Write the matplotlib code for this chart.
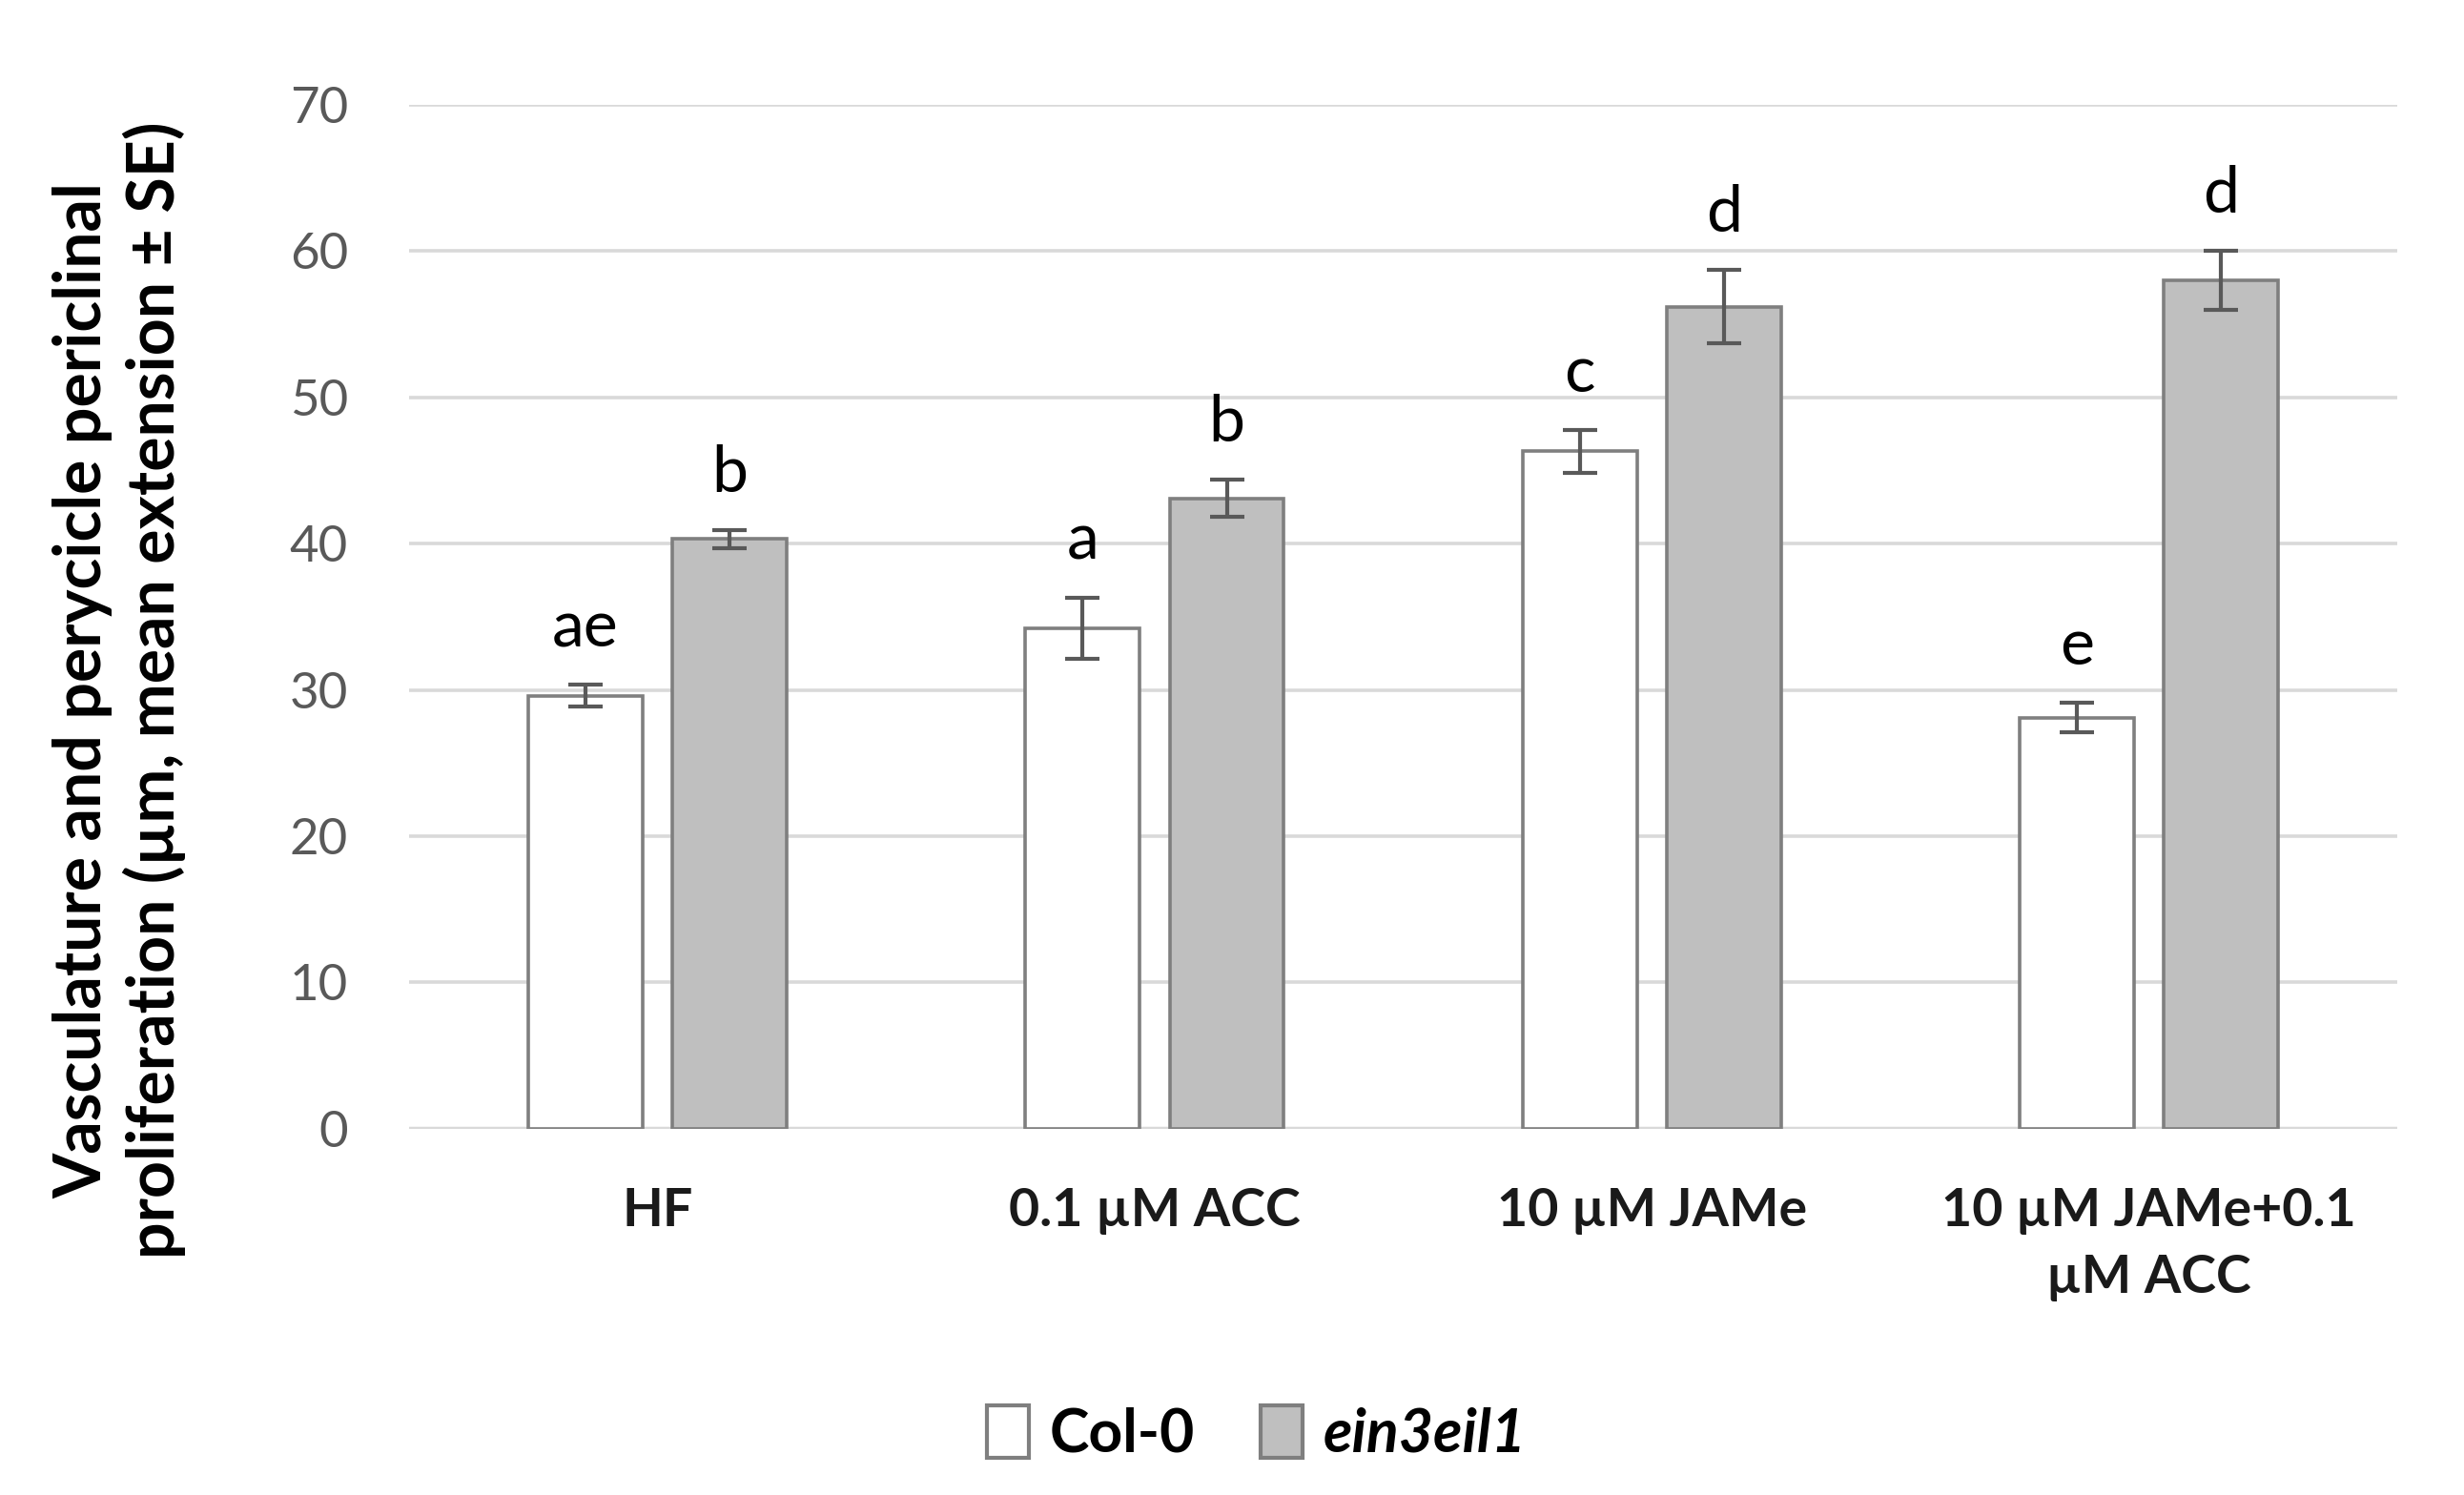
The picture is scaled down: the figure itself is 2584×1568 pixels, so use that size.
import numpy as np
import matplotlib
matplotlib.use("Agg")
import matplotlib.pyplot as plt
from matplotlib.patches import Patch

plt.rcParams["font.family"] = ["Lato", "DejaVu Sans"]

# data
treatments = ["HF", "0.1 µM ACC", "10 µM JAMe", "10 µM JAMe+0.1\nµM ACC"]
col0_mean = [29.6, 34.2, 46.3, 28.1]
col0_se = [0.75, 2.1, 1.45, 1.0]
ein_mean = [40.3, 43.1, 56.2, 58.0]
ein_se = [0.63, 1.3, 2.5, 2.0]
col0_letters = ["ae", "a", "c", "e"]
ein_letters = ["b", "b", "d", "d"]
yticks = [0, 10, 20, 30, 40, 50, 60, 70]

EDGE = "#7f7f7f"
GREY = "#bfbfbf"
ERR = "#595959"
GRID = "#d9d9d9"

fig = plt.figure(figsize=(12.92, 7.84), dpi=200)
ax = fig.add_axes([0.166, 0.245, 0.807, 0.685])

x = np.arange(len(treatments))
w = 0.23
off = 0.145

ax.bar(x - off, col0_mean, w, color="white", edgecolor=EDGE, linewidth=1.3, zorder=3)
ax.bar(x + off, ein_mean, w, color=GREY, edgecolor=EDGE, linewidth=1.3, zorder=3)
ax.errorbar(x - off, col0_mean, yerr=col0_se, fmt="none", ecolor=ERR,
            elinewidth=1.5, capsize=6.5, capthick=1.5, zorder=4)
ax.errorbar(x + off, ein_mean, yerr=ein_se, fmt="none", ecolor=ERR,
            elinewidth=1.5, capsize=6.5, capthick=1.5, zorder=4)

for xi, m, s, lab in zip(x - off, col0_mean, col0_se, col0_letters):
    ax.text(xi, m + s + 2.6, lab, ha="center", va="baseline", fontsize=24.5, color="black")
for xi, m, s, lab in zip(x + off, ein_mean, ein_se, ein_letters):
    ax.text(xi, m + s + 2.6, lab, ha="center", va="baseline", fontsize=24.5, color="black")

ax.set_xlim(-0.5, len(treatments) - 0.5)
ax.set_ylim(0, 70)
ax.set_yticks(yticks)
ax.yaxis.grid(True, color=GRID, linewidth=1.3, zorder=0)
ax.set_axisbelow(True)
for sp in ax.spines.values():
    sp.set_visible(False)
ax.axhline(0, color=GRID, linewidth=1.6, zorder=2)

ax.tick_params(axis="both", length=0)
ax.tick_params(axis="y", labelsize=19, labelcolor="#595959", pad=23)
ax.set_xticks(x)
ax.set_xticklabels(treatments, fontsize=20, fontweight="bold", color="#1a1a1a",
                   linespacing=1.5)
ax.tick_params(axis="x", pad=22)

ax.set_ylabel("Vasculature and perycicle periclinal\nproliferation (µm, mean extension ± SE)",
              fontsize=24.5, fontweight="bold", linespacing=1.2)
ax.yaxis.set_label_coords(-0.112, 0.428)

handles = [Patch(facecolor="white", edgecolor=EDGE, linewidth=1.5, label="Col-0"),
           Patch(facecolor=GREY, edgecolor=EDGE, linewidth=1.5, label="ein3eil1")]
leg = fig.legend(handles=handles, loc="center", bbox_to_anchor=(0.51, 0.041), ncol=2,
                 frameon=False, fontsize=22.5, handlelength=0.7, handleheight=1.0,
                 handletextpad=0.35, columnspacing=1.1)
for t in leg.get_texts():
    t.set_fontweight("bold")
leg.get_texts()[1].set_fontstyle("italic")

fig.savefig("out.png", dpi=200)
